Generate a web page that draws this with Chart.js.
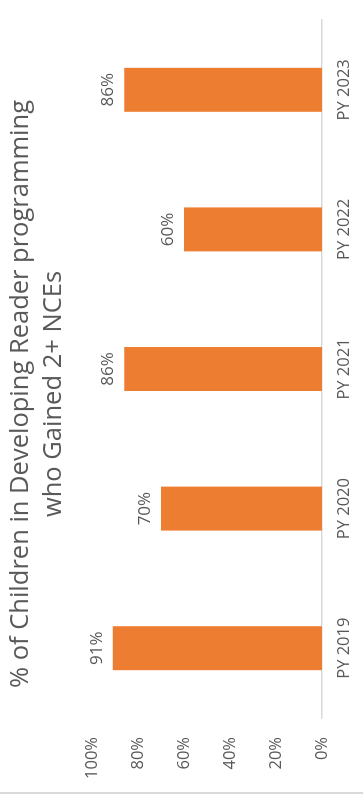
<!DOCTYPE html>
<html>
<head>
<meta charset="utf-8">
<script src="https://cdn.jsdelivr.net/npm/chart.js@4/dist/chart.umd.min.js"></script>
<style>
  html, body { margin: 0; padding: 0; background: #fff; overflow: hidden; width: 363px; height: 797px; }
  /* the chart is laid out landscape and turned a quarter turn counter-clockwise */
  #wrap { position: absolute; left: 0; top: 0; width: 797px; height: 363px;
          transform-origin: 0 0; transform: translateY(797px) rotate(-90deg); }
  canvas { display: block; }
</style>
</head>
<body>
<div id="wrap"><canvas id="c" width="797" height="363"></canvas></div>
<script>
const categories = ['PY 2019', 'PY 2020', 'PY 2021', 'PY 2022', 'PY 2023'];
const gainedPct = [91, 70, 86, 60, 86];
const percentTicks = [0, 20, 40, 60, 80, 100];
const titleLines = ['% of Children in Developing Reader programming', 'who Gained 2+ NCEs'];

const TEXT = '#595959';
const FONT = '"Open Sans", "DejaVu Sans", sans-serif';

// thin frame edge on the left side of the chart
const frameEdge = {
  id: 'frameEdge',
  beforeDraw(chart) {
    const { ctx } = chart;
    ctx.save();
    ctx.fillStyle = '#D9D9D9';
    ctx.fillRect(3, 0, 2, chart.height);
    ctx.restore();
  }
};

// two-line heading in the space reserved above the plot
const heading = {
  id: 'heading',
  afterDraw(chart) {
    const { ctx } = chart;
    ctx.save();
    ctx.font = '25.5px ' + FONT;
    ctx.fillStyle = TEXT;
    ctx.textAlign = 'center';
    ctx.textBaseline = 'middle';
    titleLines.forEach((line, i) => ctx.fillText(line, 403, 20.5 + i * 33));
    ctx.restore();
  }
};

// percentage written above each bar
const barValueLabels = {
  id: 'barValueLabels',
  afterDatasetsDraw(chart) {
    const { ctx } = chart;
    const meta = chart.getDatasetMeta(0);
    ctx.save();
    ctx.font = '17px ' + FONT;
    ctx.fillStyle = TEXT;
    ctx.textAlign = 'center';
    ctx.textBaseline = 'alphabetic';
    meta.data.forEach((bar, i) => {
      ctx.fillText(gainedPct[i] + '%', bar.x, bar.y - 11);
    });
    ctx.restore();
  }
};

new Chart(document.getElementById('c'), {
  type: 'bar',
  data: {
    labels: categories,
    datasets: [{
      data: gainedPct,
      backgroundColor: '#ED7D31',
      borderWidth: 0,
      barPercentage: 0.315,
      categoryPercentage: 1
    }]
  },
  options: {
    responsive: false,
    animation: false,
    devicePixelRatio: 1,
    layout: { padding: { left: 0, right: 20, top: 92, bottom: 0 } },
    plugins: {
      legend: { display: false },
      tooltip: { enabled: false },
      title: { display: false }
    },
    scales: {
      x: {
        grid: { display: false, drawTicks: false },
        border: { display: true, color: '#D9D9D9', width: 1.5 },
        ticks: { color: TEXT, font: { family: FONT, size: 16.5 }, padding: 12, maxRotation: 0 },
        afterFit(scale) { scale.height = 41; }
      },
      y: {
        min: 0,
        max: 100,
        grid: { display: false, drawTicks: false },
        border: { display: false },
        ticks: {
          color: TEXT,
          font: { family: FONT, size: 16.5 },
          padding: 19,
          callback: v => v + '%'
        },
        afterBuildTicks(scale) { scale.ticks = percentTicks.map(v => ({ value: v })); },
        afterFit(scale) { scale.width = 79; }
      }
    }
  },
  plugins: [frameEdge, heading, barValueLabels]
});
</script>
</body>
</html>
